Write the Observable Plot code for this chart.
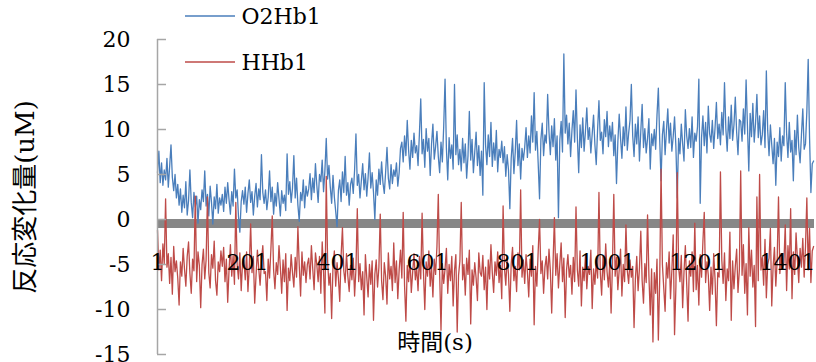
<!DOCTYPE html>
<html>
<head>
<meta charset="utf-8">
<script src="https://cdn.jsdelivr.net/npm/d3@7"></script>
<script src="https://cdn.jsdelivr.net/npm/@observablehq/plot@0.6"></script>
<style>
  html, body { margin: 0; padding: 0; background: #fff; }
  #chart svg { display: block; }
</style>
</head>
<body>
<div id="chart"></div>
<script>
// Seconds between stored samples
const sampleStep = 3;

// Oxygenated haemoglobin change, channel 1 (uM)
const o2hb1 = [
  5.2, 7.6, 4.1, 6.3, 3.8, 5.5, 4.4, 6.8, 3.6, 5.9, 8.3, 4.7, 3.2, 5.0, 2.4, 3.9,
  1.6, 3.4, 0.8, 2.7, 1.3, 4.2, 0.5, 2.1, 5.5, 1.9, 0.2, 3.0, 1.4, 2.6, -0.4, 2.2,
  1.1, 3.3, 2.0, 5.4, 1.5, 2.8, 0.4, 3.7, 1.9, -0.5, 2.5, 1.2, 3.9, 0.7, 2.4, 1.6,
  2.8, 0.9, 3.6, 1.8, 4.1, 2.2, 0.6, 3.1, 1.5, 5.6, 2.4, 3.3, 0.3, -1.4, 2.0, 3.2,
  1.7, 3.6, 0.8, 2.9, 4.4, 1.9, 3.1, 0.5, 2.6, 4.0, 1.4, 3.4, 2.2, 7.2, 3.0, 1.8,
  3.3, 1.1, 2.5, 5.4, 2.0, 3.6, 0.6, 2.9, 1.5, 4.1, 2.3, 0.4, 3.2, 1.8, 2.7, 1.0,
  7.3, 2.8, 4.2, 1.9, 3.5, 7.1, 2.4, 4.6, 1.6, -0.2, 3.0, 2.1, 4.4, 1.3, 3.7, 2.6,
  3.4, 5.1, 2.2, 4.6, 3.0, 6.2, 3.8, 1.9, 5.0, 4.2, 6.6, 3.1, 5.4, 9.0, 4.5, 6.0,
  3.6, 1.8, 4.9, 2.5, 0.9, -0.8, 3.2, 4.4, 2.0, 5.3, 3.0, 7.0, 2.7, 4.1, 1.6, 3.9,
  4.6, 2.9, 5.5, 9.5, 3.8, 5.0, 2.4, 4.3, 6.2, 3.3, 5.1, 2.6, 4.7, 7.4, 3.5, 5.2,
  3.0, 0.0, 4.4, 2.7, 5.6, 3.9, 6.4, 4.1, 2.9, 5.3, 8.0, 4.6, 3.4, 6.1, 4.0, 5.5,
  4.8, 6.3, 3.7, 5.2, 7.9, 8.6, 6.4, 9.3, 7.1, 11.0, 7.7, 5.6, 8.8, 6.9, 9.6, 7.4,
  8.2, 6.0, 9.5, 13.4, 7.3, 8.9, 5.8, 10.1, 7.6, 9.0, 4.9, 8.4, 10.6, 6.7, 8.1, 9.8,
  7.0, 5.2, 8.6, 6.4, 10.3, 15.6, 7.9, 4.4, 9.1, 6.8, 8.3, 5.6, 15.0, 7.2, 9.4, 6.1,
  7.8, 5.4, 9.0, 6.3, 8.4, 4.6, 7.1, 12.0, 6.6, 8.9, 5.2, 7.5, 9.7, 6.0, 8.2, 4.9,
  7.6, 2.7, 15.2, 8.3, 6.1, 9.4, 7.0, 10.8, 5.9, 8.5, 6.6, 9.9, 5.3, 7.8, 6.9, 8.7,
  6.3, 8.1, 4.8, 7.2, 5.5, 1.2, 6.8, 9.0, 5.1, 7.5, 11.0, 6.0, 8.4, 4.5, 7.9, 6.6,
  8.0, 10.2, 6.9, 9.3, 7.4, 11.5, 8.6, 14.1, 7.7, 9.8, 6.2, 2.3, 8.9, 10.7, 7.1, 9.4,
  8.5, 13.9, 9.7, 7.2, 10.4, 8.1, 11.2, 6.6, 9.3, 0.2, 8.8, 10.9, 7.5, 18.4, 9.6, 11.6,
  8.4, 10.7, 7.0, 9.9, 12.1, 8.6, 14.4, 9.1, 5.2, 10.5, 8.0, 11.3, 7.6, 9.8, 12.4, 8.9,
  10.2, 7.4, 9.5, 11.6, 8.3, 6.1, 10.0, 13.2, 8.8, 9.7, 7.3, 11.1, 9.2, 12.0, 8.1, 10.4,
  8.7, 10.8, 7.1, 9.4, 4.0, 8.6, 11.7, 9.0, 6.8, 10.3, 8.2, 12.5, 7.7, 9.6, 11.0, 15.0,
  9.3, 7.0, 10.6, 8.4, 11.4, 6.5, 9.8, 12.8, 8.0, 10.1, 7.4, 9.0, 11.2, 5.6, 9.5, 8.2,
  10.0, 7.8, 11.6, 14.6, 8.9, 4.3, 9.4, 10.9, 7.2, 9.9, 12.3, 8.5, 10.7, 7.6, 9.2, 11.4,
  8.1, 2.4, 9.0, 7.3, 10.6, 8.4, 6.5, 12.2, 9.3, 7.9, 10.1, 8.0, 11.4, 6.9, 9.6, 8.7,
  10.3, 15.6, 1.8, 9.1, 11.5, 8.2, 10.8, 7.4, 12.6, 9.5, 8.6, 11.0, 7.9, 10.2, 13.0, 9.0,
  10.6, 8.3, 11.9, 9.4, 15.2, 10.1, 7.6, 11.4, 9.0, 12.7, 8.8, 10.5, 13.6, 9.7, 7.2, 11.1,
  10.9, 8.7, 12.3, 9.5, 15.5, 10.4, 5.4, 11.8, 9.2, 12.9, 8.6, 10.7, 13.9, 9.1, 11.5, 8.3,
  9.4, 12.1, 8.0, 16.5, 9.9, 7.1, 10.5, 8.3, 6.2, 9.0, 3.8, 8.6, 7.0, 10.2, 6.5, 9.3,
  8.2, 15.2, 9.6, 6.9, 10.8, 7.5, 8.8, 4.3, 9.9, 7.2, 11.6, 8.0, 6.3, 9.4, 12.3, 7.8,
  8.4, 12.0, 17.8, 9.1, 3.0, 6.2, 6.5
];

// Deoxygenated haemoglobin change, channel 1 (uM)
const hhb1 = [
  -1.2, -5.6, -3.4, -6.8, -2.7, -4.9, 2.3, -5.3, -3.8, -7.1, -4.2, -8.3, -3.0, -5.8, -4.6, -6.5,
  -9.5, -4.7, -6.3, -3.2, -5.5, -7.4, -4.1, -2.5, -6.0, -8.2, -4.4, -5.7, 2.6, -6.9, -3.6, -5.1,
  -9.8, -5.0, -3.3, -6.6, -4.5, 2.5, -5.9, -7.6, -3.9, -5.4, -2.4, -6.8, -8.4, -4.7, -5.8, -3.5,
  -5.2, -3.1, -6.9, -4.4, -9.2, -5.6, -2.8, -6.3, -4.0, -7.2, 1.9, -5.0, -6.6, -3.7, -7.9, -4.8,
  -4.5, -6.7, -3.6, -8.0, -5.2, -0.5, -5.9, -4.1, -9.3, -6.2, -3.4, -5.5, -7.3, -4.6, -2.9, -6.0,
  -5.8, -9.0, -4.4, -6.5, -3.3, 0.4, -5.6, -7.7, -4.8, -6.1, -2.9, -5.3, -8.2, -4.5, -6.9, -3.8,
  -10.1, -5.4, -6.8, -3.9, -5.9, -7.5, -4.2, -6.4, -0.8, -5.1, -8.5, -3.6, -6.2, -4.7, -7.0, -5.0,
  -4.3, -6.6, -2.9, -5.5, -7.8, -3.7, -5.0, -6.9, -4.1, -8.2, -2.5, -5.8, -10.4, 4.8, -4.6, -7.3,
  -6.0, -11.0, -5.2, -3.5, -7.4, -4.8, -6.5, -9.1, -4.0, -0.9, -5.7, -7.0, -3.8, -6.3, -8.0, -5.1,
  -6.7, -4.3, -8.5, -5.5, 1.2, -6.9, -4.9, -7.8, -5.8, -10.6, -3.9, -6.4, -8.6, -5.0, -7.2, -4.6,
  -11.2, -6.1, -4.5, -7.5, -5.3, 0.6, -6.8, -8.9, -4.8, -6.3, -9.4, -3.7, -6.6, -5.2, -7.9, -2.6,
  -7.0, -4.6, -8.8, -5.6, -3.4, -6.5, 0.8, -7.3, -11.3, -5.1, -6.9, -4.2, -8.1, -5.9, -3.8, -6.7,
  -5.4, -7.9, -4.1, -6.6, 0.7, -5.8, -10.0, -4.7, -6.3, -3.5, -7.4, -5.2, -8.6, -4.4, -6.1, -3.0,
  2.8, -6.0, -12.3, -4.9, -7.1, -5.5, -3.2, -8.2, -5.0, -6.8, -4.1, -9.6, -5.7, -3.9, -12.5, -6.2,
  -4.6, 1.9, -6.7, -5.0, -8.4, -4.3, -6.1, -3.4, -11.6, -5.6, -7.3, -4.8, -6.5, -9.0, -3.7, -5.9,
  -6.3, -4.0, -7.8, -5.3, -10.0, -4.5, -6.6, -2.8, -5.9, -8.1, -4.7, -6.2, -3.6, -7.0, -5.1, -8.8,
  1.5, -5.4, -7.3, -4.2, -6.1, -10.2, -4.9, -3.1, -6.8, -5.2, -8.0, -3.7, -5.6, 3.3, -6.4, -4.5,
  -7.1, -3.9, -5.8, -8.6, -4.4, -6.3, -2.9, -11.7, -5.2, -7.4, -3.5, 0.0, -6.0, -4.6, -8.2, -5.3,
  -4.1, -6.6, -3.3, -5.7, -10.4, -4.8, 0.2, -6.2, -3.8, -7.6, -5.0, -2.6, -6.9, -4.3, -10.9, -5.6,
  -3.9, -6.4, -5.1, -8.3, -4.2, -6.9, 1.4, -5.6, -7.4, -3.5, -9.6, -5.3, -6.8, -4.0, -7.7, -5.2,
  -6.1, -3.4, -9.9, -5.5, -7.2, -4.6, -6.5, 3.0, -5.9, -8.4, -4.1, -6.7, -2.7, -5.8, -7.5, -4.8,
  -10.4, -5.1, 2.8, -6.3, -4.2, -7.8, -5.6, -3.3, -8.5, -5.0, -6.9, -0.6, -5.7, -7.1, -4.5, -6.4,
  -5.2, -12.0, -6.6, -4.1, -7.9, -5.4, -1.3, -6.8, -9.3, -4.9, -7.0, 0.5, -6.2, -10.6, -5.5, -13.6,
  -5.9, -8.2, -4.4, -13.4, -6.7, 5.6, -5.0, -7.6, -10.2, -4.8, -6.5, -3.6, -8.8, -5.7, -1.7, -12.8,
  -7.5, 5.2, -5.3, -6.9, -4.0, -9.8, -5.8, -2.9, -7.2, -11.3, -4.6, -6.3, -3.6, -8.0, -0.4, -7.8,
  -5.1, -9.5, -3.9, -6.4, -2.5, 0.8, -7.0, -4.7, -6.2, -10.1, -5.3, -8.3, -3.8, -6.6, -11.8, -5.9,
  -6.4, 5.3, -4.5, -7.1, -3.7, -9.0, -5.5, -6.8, -1.4, -11.2, -4.6, -7.7, -5.2, -3.3, -8.1, -5.6,
  5.4, -6.2, -2.8, -8.2, -4.9, -10.6, -0.9, -6.3, -3.4, -7.5, -5.1, -11.9, 2.5, -6.8, 5.0, -5.6,
  -4.2, -7.3, -2.2, -8.7, -5.0, -4.3, -1.0, -9.6, -5.2, -3.1, -7.4, -4.6, 2.5, -6.0, -3.8, -5.5,
  -4.8, -0.6, -7.9, -2.9, -5.5, 1.2, -8.8, -3.6, -6.1, -1.5, -4.4, -7.0, -3.2, -5.3, -2.1, -6.4,
  -3.0, 2.4, -5.6, -1.0, -7.0, -3.5, -3.0
];

const seriesNames = ["O2Hb1", "HHb1"];
const seriesColors = ["#4A7EBB", "#BE4B48"];
const yTicks = [-15, -10, -5, 0, 5, 10, 15, 20];
const xTicks = [1, 201, 401, 601, 801, 1001, 1201, 1401];
const xTitle = "時間(s)";
const yTitle = "反応変化量(uM)";

const toRows = (values) => values.map((v, i) => ({t: 1 + i * sampleStep, v}));
const o2Rows = toRows(o2hb1);
const hhRows = toRows(hhb1);

const serif = "'DejaVu Serif', 'Noto Sans CJK JP', serif";

const plot = Plot.plot({
  width: 816,
  height: 362,
  marginLeft: 157,
  marginRight: 2,
  marginTop: 39,
  marginBottom: 8,
  style: {fontFamily: serif, fontSize: "22px", color: "#000", background: "#fff", overflow: "visible"},
  x: {domain: [1, 1461], axis: null, label: null},
  y: {domain: [-15, 20], axis: null, label: null},
  marks: [
    // thick horizontal axis at zero
    Plot.ruleY([0], {stroke: "#878787", strokeWidth: 9, dy: 4}),
    Plot.line(o2Rows, {x: "t", y: "v", stroke: seriesColors[0], strokeWidth: 1.3}),
    Plot.line(hhRows, {x: "t", y: "v", stroke: seriesColors[1], strokeWidth: 1.3}),
    // vertical value axis with inside ticks
    Plot.ruleX([1], {stroke: "#a6a6a6", strokeWidth: 1.5}),
    Plot.tickY(yTicks, {y: d => d, stroke: "#a6a6a6", strokeWidth: 1.5, insetRight: 648}),
    Plot.axisY(yTicks, {label: null, tickSize: 0, tickPadding: 27, tickFormat: d => String(d), fontSize: 22, fontFamily: serif}),
    // category labels
    Plot.text(xTicks, {x: d => d, frameAnchor: "top", lineAnchor: "middle", dy: 223, text: d => String(d), fontSize: 22, fontFamily: serif}),
    // axis titles
    Plot.text([yTitle], {frameAnchor: "left", textAnchor: "middle", lineAnchor: "middle", dx: -132, rotate: -90, fontSize: 26, fontFamily: serif}),
    Plot.text([xTitle], {frameAnchor: "bottom", textAnchor: "middle", lineAnchor: "middle", dx: -51, dy: -12, fontSize: 23, fontFamily: serif}),
    // legend labels
    Plot.text([seriesNames[0]], {frameAnchor: "top-left", lineAnchor: "middle", dx: 84, dy: -23, textAnchor: "start", fontSize: 22, fontFamily: serif}),
    Plot.text([seriesNames[1]], {frameAnchor: "top-left", lineAnchor: "middle", dx: 84, dy: 23, textAnchor: "start", fontSize: 22, fontFamily: serif})
  ]
});

// legend swatches
const svg = d3.select(plot);
[16, 62].forEach((yPos, i) => {
  svg.append("line")
    .attr("x1", 185).attr("x2", 235)
    .attr("y1", yPos).attr("y2", yPos)
    .attr("stroke", seriesColors[i])
    .attr("stroke-width", 1.3);
});

document.getElementById("chart").appendChild(plot);
</script>
</body>
</html>
